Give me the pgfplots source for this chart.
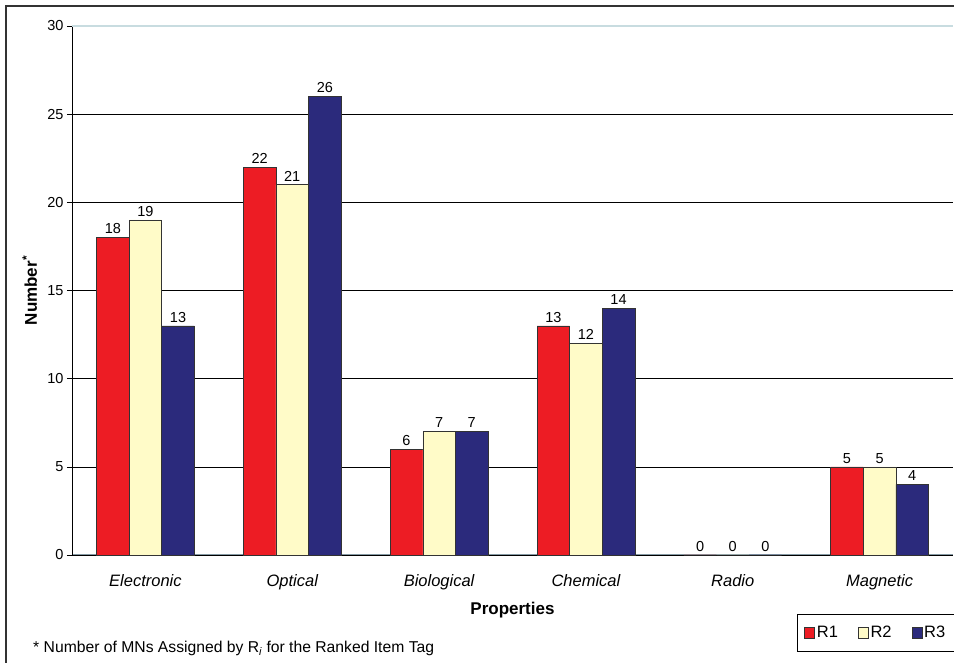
\documentclass[border=0pt]{standalone}
\usepackage{fontspec}
\setmainfont{Liberation Sans}
\usepackage{pgfplots}
\pgfplotsset{compat=1.18}
\usetikzlibrary{calc}
\definecolor{rone}{HTML}{ED1C24}
\definecolor{rtwo}{HTML}{FFFBC8}
\definecolor{rthree}{HTML}{2B2A7C}
\definecolor{topline}{HTML}{C8DCE0}
\begin{document}
\begin{tikzpicture}[x=1pt,y=1pt]
\begin{axis}[
  scale only axis, width=881pt, height=529pt,
  ybar=0pt, bar width=32.6pt,
  xmin=-0.5, xmax=5.5, ymin=0, ymax=30,
  xtick={0,1,2,3,4,5},
  xticklabels={Electronic,Optical,Biological,Chemical,Radio,Magnetic},
  xticklabel style={font=\fontsize{16.5}{18}\selectfont\itshape, yshift=-11pt},
  ytick={0,5,10,15,20,25},
  extra y ticks={30},
  extra y tick style={grid=none},
  yticklabel style={font=\fontsize{14.5}{16}\selectfont},
  /pgf/number format/assume math mode=true,
  axis x line*=bottom, axis y line*=left,
  x axis line style={draw=gray!80!cyan, line width=1pt},
  y axis line style={draw=black, line width=0.8pt},
  x tick style={draw=none},
  y tick style={draw=black, line width=0.6pt},
  tick align=outside, major tick length=5pt,
  ymajorgrids, grid style={draw=black, line width=0.6pt},
  ylabel={\textbf{Number\textsuperscript{*}}},
  ylabel style={font=\fontsize{17}{19}\selectfont, at={(axis description cs:-0.048,0.5)}, anchor=center},
  xlabel={\textbf{Properties}},
  xlabel style={font=\fontsize{17}{19}\selectfont, at={(axis description cs:0.5,-0.104)}, anchor=center},
  nodes near coords,
  every node near coord/.append style={font=\fontsize{14.5}{16}\selectfont, black, /pgf/number format/assume math mode=true},
  legend columns=3,
  legend style={at={(axis description cs:0.823,-0.1115)}, anchor=north west,
    draw=black, line width=0.8pt, font=\fontsize{16.5}{18}\selectfont,
    inner xsep=7pt, inner ysep=10pt,
    /tikz/every even column/.append style={column sep=18pt}},
  legend image code/.code={\draw[#1, line width=0.5pt] (0pt,-5pt) rectangle (10pt,6pt);},
  clip=false,
]
\addplot[fill=rone, draw=black!80, line width=0.5pt] coordinates {(0,18) (1,22) (2,6) (3,13) (4,0) (5,5)};
\addplot[fill=rtwo, draw=black!80, line width=0.5pt] coordinates {(0,19) (1,21) (2,7) (3,12) (4,0) (5,5)};
\addplot[fill=rthree, draw=black!80, line width=0.5pt] coordinates {(0,13) (1,26) (2,7) (3,14) (4,0) (5,4)};
\legend{R1,R2,R3}
\draw[topline, line width=1.2pt] (axis cs:-0.5,30) -- (axis cs:5.5,30);
\node[anchor=west, font=\fontsize{15.7}{17}\selectfont] at (axis description cs:-0.048,-0.176)
  {* Number of MNs Assigned by R\textsubscript{\itshape i} for the Ranked Item Tag};
\coordinate (LL) at (rel axis cs:0,0);
\end{axis}
\pgfresetboundingbox
\useasboundingbox ($(LL)+(-72,-108)$) rectangle ++(954,663);
\draw[line width=1.2pt, black!80] ($(LL)+(-66,-120)$) -- ($(LL)+(-66,549)$) -- ($(LL)+(890,549)$);
\end{tikzpicture}
\end{document}
